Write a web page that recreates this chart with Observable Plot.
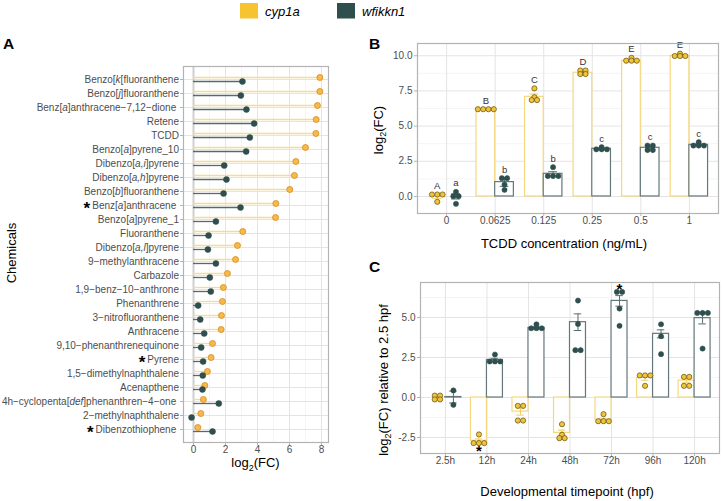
<!DOCTYPE html>
<html><head><meta charset="utf-8">
<script src="https://cdn.jsdelivr.net/npm/d3@7"></script>
<script src="https://cdn.jsdelivr.net/npm/@observablehq/plot@0.6"></script>
<style>
body{margin:0;background:#fff;font-family:"Liberation Sans",Arial,sans-serif;}
#root{position:relative;width:722px;height:501px;overflow:hidden;background:#fff;}
.panel{position:absolute;}
#overlay{position:absolute;left:0;top:0;pointer-events:none;}
</style></head><body><div id="root"></div>
<script>
// ---------- Panel A data ----------
const chemNames = [
  "Benzo[{k}[fluoranthene", "Benzo[{j}]fluoranthene", "Benz[{a}]anthracene−7,12−dione\u00a0", "Retene", "TCDD",
  "Benzo[{a}]pyrene_10", "Dibenzo[{a,i}]pyrene", "Dibenzo[{a,h}]pyrene", "Benzo[{b}]fluoranthene", "Benz[{a}]anthracene\u00a0",
  "Benzo[{a}]pyrene_1", "Fluoranthene", "Dibenzo[{a,l}]pyrene", "9−methylanthracene", "Carbazole",
  "1,9−benz−10−anthrone", "Phenanthrene", "3−nitrofluoranthene", "Anthracene", "9,10−phenanthrenequinone",
  "Pyrene", "1,5−dimethylnaphthalene", "Acenapthene", "4h−cyclopenta[{def}]phenanthren−4−one\u00a0", "2−methylnaphthalene",
  "Dibenzothiophene\u00a0"
];
const chemCyp1a = [7.9, 7.9, 7.75, 7.67, 7.65, 7.0, 6.4, 6.31, 6.02, 5.15, 5.13, 3.08, 2.75, 2.63, 2.12,
  1.87, 1.81, 1.75, 1.73, 1.19, 1.1, 0.87, 0.71, 0.62, 0.46, 0.27];
const chemWfikkn1 = [3.06, 2.96, 3.31, 3.79, 3.52, 3.29, 1.92, 2.06, 1.88, 2.94, 1.4, 0.94, 0.9, 1.4, 1.02,
  1.08, 0.29, 0.42, 0.67, 0.48, 0.6, 0.58, 0.56, 1.58, -0.12, 1.19];
const chemStarred = ["Benz[{a}]anthracene\u00a0", "Pyrene", "Dibenzothiophene\u00a0"];
const aTicks = [0, 2, 4, 6, 8];
const aMinor = [1, 3, 5, 7];

// ---------- Panel B data ----------
const concLabels = ["0", "0.0625", "0.125", "0.25", "0.5", "1"];
const bCyp1aMean = [0.0, 6.2, 7.08, 8.79, 9.64, 10.0];
const bCyp1aSE = [0.13, 0.0, 0.2, 0.07, 0.05, 0.04];
const bWfikkn1Mean = [0.0, 1.02, 1.61, 3.39, 3.46, 3.67];
const bWfikkn1SE = [0.18, 0.3, 0.15, 0.04, 0.08, 0.06];
const bCyp1aPoints = [[0.14, 0.14, 0.14, -0.38], [6.2, 6.2, 6.2, 6.2], [7.68, 7.05, 6.85, 6.85],
  [8.95, 8.95, 8.7, 8.7], [9.85, 9.65, 9.65, 9.65], [10.15, 9.98, 9.98, 9.98]];
const bWfikkn1Points = [[0.33, 0.02, 0.02, -0.52], [1.3, 1.3, 0.85, 0.47], [2.08, 1.45, 1.45, 1.45],
  [3.5, 3.35, 3.35, 3.35], [3.62, 3.62, 3.3, 3.3], [3.86, 3.62, 3.62, 3.62]];
const bCyp1aLetters = ["A", "B", "C", "D", "E", "E"];
const bWfikkn1Letters = ["a", "b", "b", "c", "c", "c"];
const bTicks = [0, 2.5, 5, 7.5, 10];
const bMinor = [1.25, 3.75, 6.25, 8.75];

// ---------- Panel C data ----------
const timeLabels = ["2.5h", "12h", "24h", "48h", "72h", "96h", "120h"];
const cCyp1aMean = [0.0, -2.71, -0.88, -2.21, -1.40, 1.23, 1.06];
const cCyp1aSE = [0.06, 0.12, 0.22, 0.17, 0.11, 0.15, 0.14];
const cWfikkn1Mean = [0.03, 2.35, 4.35, 4.71, 6.04, 3.98, 4.96];
const cWfikkn1SE = [0.37, 0.1, 0.07, 0.52, 0.33, 0.25, 0.36];
const cCyp1aPoints = [[0.12, 0.12, -0.12, -0.12], [-2.31, -2.85, -2.85, -2.85], [-0.52, -0.52, -1.44, -1.44],
  [-1.67, -2.33, -2.54, -2.54], [-1.04, -1.48, -1.48, -1.48], [1.38, 1.38, 1.38, 0.73], [1.29, 1.29, 0.73, 0.73]];
const cWfikkn1Points = [[0.44, -0.46], [2.69, 2.25, 2.25, 2.25], [4.58, 4.33, 4.33, 4.33],
  [6.06, 4.6, 2.96, 2.96], [6.6, 6.6, 5.56, 4.48], [4.58, 3.83, 2.71], [5.29, 5.29, 5.29, 3.06]];
const cStars = [{time: "12h", gene: "cyp1a", side: "below"}, {time: "72h", gene: "wfikkn1", side: "above"}];
const cTicks = [-2.5, 0, 2.5, 5];
const cMinor = [-1.25, 1.25, 3.75, 6.25];

// ---------- styling ----------
const FONT = "Liberation Sans, Arial, Helvetica, sans-serif";
const YEL = "#F6C431", DARK = "#2F4F4F";
const gridMajor = "#e4e4e4", gridMinor = "#f0f0f0", frameCol = "#b3b3b3";
const root = document.getElementById("root");
const strip = s => s.replace(/[{}]/g, "");

function place(svg, left, top) {
  const d = document.createElement("div");
  d.className = "panel"; d.style.left = left + "px"; d.style.top = top + "px";
  d.appendChild(svg); root.appendChild(d);
  svg.querySelectorAll('g[aria-label$="-axis tick"]').forEach(g => g.setAttribute("stroke", frameCol));
}

// ---------- Panel A ----------
const chemRows = chemNames.map((n, i) => ({name: n, cyp: chemCyp1a[i], wf: chemWfikkn1[i]}));
const svgA = Plot.plot({
  width: 360, height: 501, marginLeft: 183, marginTop: 66, marginRight: 32, marginBottom: 59,
  style: {fontFamily: FONT, fontSize: "10px", color: "#4d4d4d", background: "transparent", overflow: "visible"},
  x: {domain: [-0.625, 8.44], ticks: aTicks, tickFormat: d => String(d), tickSize: 3, tickPadding: 0, label: null},
  y: {type: "point", domain: chemNames, padding: 0.5, tickFormat: strip, tickSize: 3, tickPadding: 1.5, label: null},
  marks: [
    Plot.ruleX(aMinor, {stroke: gridMinor, strokeWidth: 0.7}),
    Plot.ruleX(aTicks, {stroke: gridMajor, strokeWidth: 1}),
    Plot.ruleY(chemNames, {stroke: gridMajor, strokeWidth: 1}),
    Plot.ruleX([0], {stroke: "#cfcfcf", strokeWidth: 2}),
    Plot.ruleY(chemRows, {y: "name", x1: 0, x2: "cyp", dy: -2, stroke: "#F8DC8E", strokeWidth: 1.3}),
    Plot.ruleY(chemRows, {y: "name", x1: 0, x2: "wf", dy: 2, stroke: "#56696b", strokeWidth: 1.3}),
    Plot.dot(chemRows, {y: "name", x: "cyp", dy: -2, r: 3, fill: "#F9B84A", stroke: "#D38B1C", strokeWidth: 0.8}),
    Plot.dot(chemRows, {y: "name", x: "wf", dy: 2, r: 3, fill: DARK, stroke: DARK, strokeWidth: 0.5}),
    Plot.frame({stroke: frameCol, strokeWidth: 1.2})
  ]
});
// italic parts and asterisks in chemical names
svgA.querySelectorAll('g[aria-label="y-axis tick label"] text').forEach(t => {
  const plain = t.textContent;
  const m = chemNames.find(s => strip(s) === plain);
  if (!m) return;
  t.textContent = "";
  const NS = "http://www.w3.org/2000/svg";
  if (chemStarred.includes(m)) {
    const st = document.createElementNS(NS, "tspan");
    st.textContent = "*"; st.setAttribute("font-size", "17px"); st.setAttribute("font-weight", "bold");
    st.setAttribute("fill", "#000"); st.setAttribute("dy", "5.5");
    t.appendChild(st);
    const sp = document.createElementNS(NS, "tspan");
    sp.textContent = "\u2009"; sp.setAttribute("dy", "-5.5");
    t.appendChild(sp);
  }
  m.split(/(\{[^}]*\})/).filter(p => p.length).forEach(p => {
    const ts = document.createElementNS(NS, "tspan");
    if (p.startsWith("{")) { ts.textContent = p.slice(1, -1); ts.setAttribute("font-style", "italic"); }
    else ts.textContent = p;
    t.appendChild(ts);
  });
});
place(svgA, 0, 0);

// ---------- bar panels (B and C) ----------
function stack(values, center, spacing) {
  const counts = d3.rollup(values, v => v.length, v => v);
  const seen = new Map();
  return values.map(v => {
    const n = counts.get(v), k = seen.get(v) || 0; seen.set(v, k + 1);
    return {x: center + (k - (n - 1) / 2) * spacing, y: v};
  });
}
function barPanel(cfg) {
  const bw = 0.385, cap = 0.09;
  const n = cfg.cats.length;
  const plotW = cfg.width - cfg.ml - cfg.mr;
  const pxPerUnit = plotW / (cfg.xdom[1] - cfg.xdom[0]);
  const spacing = 5.3 / pxPerUnit;
  const bars = [], pts = [], letters = [];
  cfg.cats.forEach((c, i) => {
    [["cyp1a", i - bw, i, cfg.yMean, cfg.ySE, cfg.yPts, cfg.yLet], ["wfikkn1", i, i + bw, cfg.dMean, cfg.dSE, cfg.dPts, cfg.dLet]]
      .forEach(([gene, x1, x2, means, ses, ptsArr, lets]) => {
        const xc = (x1 + x2) / 2;
        bars.push({gene, cat: c, x1, x2, xc, mean: means[i], lo: means[i] - ses[i], hi: means[i] + ses[i]});
        stack(ptsArr[i], xc, spacing).forEach(p => pts.push({...p, gene}));
        if (lets) letters.push({x: xc, y: d3.max(ptsArr[i]), text: lets[i]});
      });
  });
  const col = g => g === "cyp1a" ? "#F7D77E" : "#64777a";
  const errCol = g => g === "cyp1a" ? "#F2CC5C" : "#5a6c6e";
  const marks = [
    Plot.ruleY(cfg.minor, {stroke: gridMinor, strokeWidth: 0.7}),
    Plot.ruleY(cfg.ticks, {stroke: gridMajor, strokeWidth: 1}),
    Plot.ruleX(d3.range(n), {stroke: gridMajor, strokeWidth: 1}),
    Plot.rect(bars, {x1: "x1", x2: "x2", y1: 0, y2: "mean", fill: "white", stroke: d => col(d.gene), strokeWidth: 1.2}),
    Plot.ruleX(bars, {x: "xc", y1: "lo", y2: "hi", stroke: d => errCol(d.gene), strokeWidth: 1}),
    Plot.ruleY(bars, {y: "lo", x1: d => d.xc - cap, x2: d => d.xc + cap, stroke: d => errCol(d.gene), strokeWidth: 1}),
    Plot.ruleY(bars, {y: "hi", x1: d => d.xc - cap, x2: d => d.xc + cap, stroke: d => errCol(d.gene), strokeWidth: 1}),
    Plot.dot(pts.filter(p => p.gene === "cyp1a"), {x: "x", y: "y", r: 2.6, fill: "#F0C43A", stroke: "#5e4c10", strokeWidth: 0.7}),
    Plot.dot(pts.filter(p => p.gene === "wfikkn1"), {x: "x", y: "y", r: 2.6, fill: DARK, stroke: DARK, strokeWidth: 0.5}),
    Plot.text(letters, {x: "x", y: "y", text: "text", dy: -8.5, fill: "#333", fontSize: 9.5}),
    Plot.frame({stroke: frameCol, strokeWidth: 1.2})
  ];
  if (cfg.stars) {
    const starData = cfg.stars.map(s => {
      const i = cfg.cats.indexOf(s.time);
      const b = bars.find(d => d.cat === s.time && d.gene === s.gene);
      const arr = (s.gene === "cyp1a" ? cfg.yPts : cfg.dPts)[i];
      return {x: b.xc, y: s.side === "above" ? d3.max(arr) : d3.min(arr), side: s.side};
    });
    marks.push(Plot.text(starData.filter(d => d.side === "above"), {x: "x", y: "y", text: d => "*", dy: -2.5, fontSize: 15, fontWeight: "bold", fill: "#000"}));
    marks.push(Plot.text(starData.filter(d => d.side === "below"), {x: "x", y: "y", text: d => "*", dy: 8.5, fontSize: 15, fontWeight: "bold", fill: "#000"}));
  }
  return Plot.plot({
    width: cfg.width, height: cfg.height, marginLeft: cfg.ml, marginTop: cfg.mt, marginRight: cfg.mr, marginBottom: cfg.mb,
    style: {fontFamily: FONT, fontSize: "10px", color: "#4d4d4d", background: "transparent", overflow: "visible"},
    x: {domain: cfg.xdom, ticks: d3.range(n), tickFormat: i => cfg.cats[i], tickSize: 3, tickPadding: 0.5, label: null},
    y: {domain: cfg.ydom, ticks: cfg.ticks, tickFormat: d => d.toFixed(1), tickSize: 3, tickPadding: 2, label: null},
    marks
  });
}

const svgB = barPanel({
  width: 362, height: 230, ml: 57, mt: 13, mr: 4, mb: 47,
  cats: concLabels, xdom: [-0.6, concLabels.length - 1 + 0.6], ydom: [-1.21, 10.87],
  ticks: bTicks, minor: bMinor,
  yMean: bCyp1aMean, ySE: bCyp1aSE, yPts: bCyp1aPoints, yLet: bCyp1aLetters,
  dMean: bWfikkn1Mean, dSE: bWfikkn1SE, dPts: bWfikkn1Points, dLet: bWfikkn1Letters
});
place(svgB, 360, 30);

const svgC = barPanel({
  width: 362, height: 239, ml: 60, mt: 20, mr: 3, mb: 48,
  cats: timeLabels, xdom: [-0.6, timeLabels.length - 1 + 0.6], ydom: [-3.5, 7.19],
  ticks: cTicks, minor: cMinor,
  yMean: cCyp1aMean, ySE: cCyp1aSE, yPts: cCyp1aPoints, yLet: null,
  dMean: cWfikkn1Mean, dSE: cWfikkn1SE, dPts: cWfikkn1Points, dLet: null,
  stars: cStars
});
place(svgC, 360, 262);

// ---------- overlay: legend, panel letters, axis titles ----------
const ov = d3.select(root).append("svg").attr("id", "overlay").attr("width", 722).attr("height", 501)
  .style("font-family", FONT);
const legendItems = [{label: "cyp1a", color: YEL, x: 240}, {label: "wfikkn1", color: DARK, x: 337}];
legendItems.forEach(it => {
  ov.append("rect").attr("x", it.x).attr("y", 3).attr("width", 18).attr("height", 15.5).attr("fill", it.color);
  ov.append("text").attr("x", it.x + 25).attr("y", 15.5).attr("font-size", 13).attr("font-style", "italic")
    .attr("fill", "#000").text(it.label);
});
[["A", 3, 48.5], ["B", 369, 48.5], ["C", 369, 271.5]].forEach(([t, x, y]) =>
  ov.append("text").attr("x", x).attr("y", y).attr("font-size", 15.5).attr("font-weight", "bold").attr("fill", "#000").text(t));

function title(parts, x, y, rotate) {
  const t = ov.append("text").attr("text-anchor", "middle").attr("font-size", 13).attr("fill", "#000")
    .attr("transform", `translate(${x},${y})` + (rotate ? " rotate(-90)" : ""));
  parts.forEach(([s, sub]) => {
    const ts = t.append("tspan").text(s);
    if (sub) ts.attr("font-size", 9).attr("dy", 3.5);
    else if (t.node().childNodes.length > 1) ts.attr("dy", -3.5);
  });
}
title([["Chemicals"]], 15.5, 253, true);
title([["log"], ["2", true], ["(FC)"]], 255.5, 467, false);
title([["log"], ["2", true], ["(FC)"]], 382.5, 130, true);
title([["TCDD concentration (ng/mL)"]], 564, 247.5, false);
title([["log"], ["2", true], ["(FC) relative to 2.5 hpf"]], 387.5, 380, true);
title([["Developmental timepoint (hpf)"]], 567, 496, false);
</script></body></html>
